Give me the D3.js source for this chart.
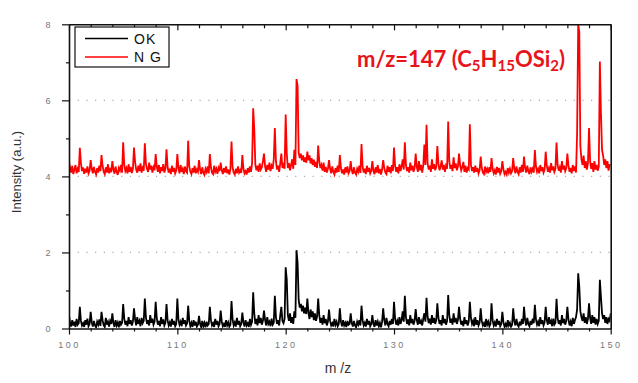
<!DOCTYPE html>
<html><head><meta charset="utf-8">
<script src="https://cdn.jsdelivr.net/npm/d3@7"></script>
<style>body{margin:0;background:#fff}svg{display:block}</style>
</head><body>
<svg id="c" width="638" height="383"></svg>
<script>
// sampling grid: m/z from 100 to 150 in steps of 0.1
const mzStart = 100, mzStep = 0.1;
const seriesNames = ["OK", "N G"];
const xTicks = [100, 110, 120, 130, 140, 150];
const yTicks = [0, 2, 4, 6, 8];
const gridValues = [2, 4, 6];

const ngValues = [
4.40,4.22,4.10,4.28,4.06,4.18,4.30,4.08,4.20,4.12,
4.75,4.35,4.14,4.24,4.07,4.20,4.10,4.26,4.08,4.15,
4.43,4.20,4.08,4.25,4.12,4.05,4.22,4.10,4.28,4.14,
4.56,4.28,4.12,4.06,4.24,4.10,4.32,4.08,4.18,4.11,
4.40,4.18,4.07,4.26,4.12,4.04,4.22,4.15,4.30,4.10,
4.90,4.30,4.14,4.22,4.08,4.32,4.12,4.25,4.09,4.20,
4.76,4.38,4.18,4.10,4.28,4.14,4.34,4.10,4.22,4.15,
4.87,4.32,4.20,4.12,4.36,4.18,4.28,4.10,4.24,4.16,
4.59,4.26,4.12,4.30,4.08,4.24,4.14,4.32,4.10,4.20,
4.71,4.24,4.10,4.20,4.06,4.28,4.12,4.22,4.08,4.16,
4.59,4.22,4.08,4.30,4.12,4.20,4.06,4.26,4.14,4.10,
4.94,4.26,4.12,4.06,4.22,4.10,4.28,4.08,4.18,4.12,
4.43,4.18,4.06,4.24,4.10,4.04,4.20,4.12,4.26,4.08,
4.59,4.24,4.10,4.06,4.28,4.12,4.20,4.07,4.22,4.14,
4.36,4.16,4.06,4.22,4.10,4.26,4.08,4.18,4.05,4.20,
4.92,4.24,4.10,4.05,4.20,4.08,4.26,4.10,4.16,4.09,
4.56,4.20,4.08,4.14,4.05,4.22,4.10,4.26,4.12,4.35,
5.79,5.25,4.30,4.16,4.28,4.12,4.34,4.18,4.24,4.40,
4.60,4.26,4.12,4.30,4.18,4.36,4.14,4.28,4.20,4.45,
5.27,4.40,4.18,4.28,4.12,4.34,4.60,4.22,4.30,4.20,
5.63,4.60,4.22,4.35,4.16,4.30,4.45,4.20,4.70,4.30,
6.56,6.38,4.62,4.48,4.60,4.42,4.55,4.38,4.50,4.36,
4.65,4.42,4.55,4.34,4.48,4.30,4.44,4.25,4.38,4.22,
4.81,4.40,4.22,4.30,4.15,4.36,4.12,4.25,4.10,4.20,
4.43,4.20,4.08,4.26,4.12,4.05,4.22,4.10,4.28,4.12,
4.56,4.22,4.08,4.18,4.05,4.24,4.10,4.26,4.08,4.14,
4.40,4.16,4.06,4.24,4.10,4.05,4.20,4.12,4.28,4.09,
4.85,4.26,4.10,4.20,4.06,4.28,4.12,4.22,4.08,4.15,
4.40,4.14,4.06,4.24,4.10,4.30,4.08,4.20,4.05,4.18,
4.43,4.22,4.10,4.06,4.28,4.12,4.24,4.08,4.30,4.14,
4.76,4.28,4.12,4.24,4.08,4.32,4.14,4.26,4.45,4.18,
4.90,4.30,4.14,4.24,4.10,4.36,4.16,4.28,4.12,4.22,
4.60,4.26,4.12,4.40,4.16,4.30,4.10,4.28,4.84,4.30,
5.36,4.34,4.18,4.28,4.12,4.45,4.20,4.32,4.16,4.25,
4.80,4.32,4.16,4.26,4.42,4.18,4.30,4.12,4.28,4.20,
5.44,4.40,4.20,4.30,4.14,4.50,4.22,4.34,4.16,4.26,
4.60,4.30,4.16,4.24,4.38,4.12,4.28,4.10,4.22,4.18,
5.37,4.30,4.14,4.24,4.10,4.28,4.12,4.22,4.08,4.16,
4.52,4.22,4.10,4.06,4.26,4.12,4.20,4.08,4.24,4.12,
4.48,4.20,4.08,4.16,4.05,4.25,4.10,4.22,4.07,4.14,
4.40,4.18,4.06,4.12,4.05,4.22,4.10,4.20,4.08,4.14,
4.48,4.20,4.08,4.26,4.12,4.06,4.24,4.10,4.30,4.12,
4.52,4.22,4.10,4.28,4.14,4.06,4.24,4.12,4.20,4.10,
4.69,4.26,4.12,4.20,4.08,4.30,4.14,4.24,4.10,4.18,
4.65,4.28,4.12,4.22,4.10,4.35,4.16,4.26,4.12,4.20,
4.89,4.30,4.15,4.24,4.10,4.40,4.18,4.28,4.14,4.22,
4.60,4.28,4.12,4.22,4.08,4.30,4.14,4.26,4.10,5.15,
8.00,7.80,4.80,4.45,4.30,4.55,4.22,4.40,4.18,4.35,
5.27,4.40,4.20,4.35,4.12,4.40,4.18,4.30,4.15,4.25,
7.02,5.66,4.70,4.55,4.30,4.45,4.22,4.40,4.15,4.30,
4.30];

const okValues = [
0.35,0.15,0.05,0.22,0.08,0.18,0.04,0.25,0.10,0.14,
0.57,0.20,0.08,0.14,0.04,0.22,0.10,0.26,0.06,0.12,
0.44,0.16,0.05,0.20,0.08,0.03,0.18,0.10,0.24,0.07,
0.44,0.22,0.08,0.04,0.28,0.10,0.18,0.05,0.20,0.12,
0.40,0.14,0.04,0.22,0.08,0.16,0.03,0.20,0.10,0.15,
0.64,0.26,0.10,0.20,0.06,0.30,0.12,0.22,0.08,0.18,
0.53,0.24,0.08,0.30,0.12,0.20,0.06,0.28,0.14,0.20,
0.79,0.30,0.12,0.22,0.08,0.35,0.15,0.26,0.10,0.18,
0.70,0.28,0.10,0.20,0.06,0.30,0.12,0.24,0.08,0.15,
0.64,0.22,0.08,0.16,0.05,0.25,0.10,0.20,0.06,0.12,
0.79,0.24,0.10,0.18,0.06,0.28,0.12,0.22,0.08,0.14,
0.60,0.20,0.06,0.15,0.04,0.22,0.08,0.18,0.05,0.10,
0.33,0.12,0.04,0.20,0.06,0.15,0.03,0.18,0.08,0.12,
0.57,0.22,0.08,0.14,0.04,0.25,0.10,0.20,0.06,0.12,
0.47,0.18,0.06,0.12,0.04,0.22,0.08,0.16,0.05,0.10,
0.72,0.24,0.08,0.16,0.05,0.28,0.10,0.20,0.06,0.12,
0.42,0.16,0.05,0.22,0.08,0.14,0.04,0.25,0.10,0.18,
0.95,0.40,0.12,0.25,0.08,0.35,0.14,0.28,0.10,0.20,
0.47,0.22,0.08,0.30,0.12,0.18,0.06,0.26,0.10,0.15,
0.86,0.30,0.12,0.22,0.08,0.35,0.57,0.20,0.14,0.25,
1.61,1.29,0.35,0.20,0.40,0.15,0.30,0.12,0.45,0.28,
2.06,1.73,0.75,0.55,0.65,0.45,0.60,0.40,0.55,0.38,
0.79,0.42,0.25,0.50,0.30,0.45,0.22,0.40,0.20,0.32,
0.79,0.35,0.15,0.28,0.10,0.35,0.14,0.25,0.08,0.18,
0.50,0.20,0.08,0.14,0.05,0.25,0.10,0.18,0.06,0.12,
0.53,0.18,0.06,0.22,0.08,0.15,0.04,0.20,0.10,0.12,
0.40,0.14,0.05,0.20,0.08,0.03,0.18,0.10,0.22,0.08,
0.60,0.22,0.08,0.15,0.05,0.25,0.10,0.20,0.06,0.12,
0.35,0.12,0.04,0.22,0.08,0.18,0.06,0.15,0.03,0.18,
0.53,0.22,0.08,0.28,0.12,0.06,0.20,0.10,0.25,0.12,
0.70,0.26,0.10,0.20,0.08,0.30,0.12,0.22,0.45,0.18,
0.86,0.30,0.12,0.24,0.08,0.35,0.14,0.25,0.10,0.20,
0.51,0.22,0.10,0.30,0.12,0.20,0.08,0.25,0.40,0.18,
0.81,0.32,0.14,0.26,0.10,0.35,0.15,0.28,0.12,0.22,
0.66,0.28,0.12,0.22,0.08,0.35,0.14,0.25,0.10,0.20,
0.88,0.35,0.15,0.26,0.10,0.40,0.16,0.28,0.12,0.22,
0.57,0.26,0.10,0.20,0.06,0.30,0.12,0.22,0.08,0.18,
0.70,0.28,0.12,0.20,0.06,0.30,0.10,0.22,0.08,0.15,
0.53,0.20,0.08,0.14,0.04,0.25,0.10,0.18,0.06,0.12,
0.66,0.22,0.08,0.16,0.05,0.25,0.10,0.20,0.06,0.12,
0.44,0.16,0.05,0.12,0.03,0.22,0.08,0.15,0.05,0.10,
0.53,0.20,0.08,0.25,0.10,0.05,0.18,0.08,0.25,0.12,
0.57,0.22,0.08,0.28,0.12,0.06,0.20,0.10,0.26,0.14,
0.62,0.24,0.10,0.18,0.06,0.30,0.12,0.22,0.08,0.16,
0.57,0.22,0.10,0.30,0.12,0.20,0.06,0.26,0.10,0.15,
0.78,0.28,0.12,0.22,0.08,0.35,0.14,0.25,0.10,0.20,
0.57,0.24,0.08,0.18,0.06,0.28,0.12,0.22,0.30,0.50,
1.45,1.10,0.45,0.30,0.20,0.40,0.15,0.30,0.12,0.25,
0.66,0.28,0.12,0.35,0.15,0.30,0.10,0.25,0.12,0.20,
1.28,0.83,0.40,0.25,0.35,0.15,0.30,0.12,0.25,0.20,
0.40];

const svg = d3.select("#c");
const L = 69, R = 610.7, T = 24.3, B = 328.5;
const x = d3.scaleLinear().domain([100, 150]).range([L, R]);
const y = d3.scaleLinear().domain([0, 8]).range([B, T]);

svg.append("defs").append("clipPath").attr("id","clip")
  .append("rect").attr("x",L).attr("y",T).attr("width",R-L).attr("height",B-T);

// dotted grid
svg.append("g").selectAll("line").data(gridValues).join("line")
  .attr("x1",L).attr("x2",R).attr("y1",d=>y(d)).attr("y2",d=>y(d))
  .attr("stroke","#aaa").attr("stroke-width",1.2).attr("stroke-dasharray","1.2,7.5");

const line = d3.line().x((d,i)=>x(mzStart + i*mzStep)).y(d=>y(d));
const gS = svg.append("g").attr("clip-path","url(#clip)");
gS.append("path").datum(okValues).attr("d",line).attr("fill","none").attr("stroke","#000").attr("stroke-width",1.8);
gS.append("path").datum(ngValues).attr("d",line).attr("fill","none").attr("stroke","#ff0000").attr("stroke-width",1.8);

// axes
const tickFont = g => g.selectAll("text").attr("font-family","Liberation Sans, Arial, sans-serif")
  .attr("font-size",9).attr("fill","#777").attr("letter-spacing","2.5px");
const minorX = d3.range(100, 151, 2).filter(v => v % 10 !== 0);
const minorY = [1,3,5,7];

const gB = svg.append("g").attr("transform",`translate(0,${B})`)
  .call(d3.axisBottom(x).tickValues(xTicks).tickSize(6).tickPadding(7).tickSizeOuter(0));
gB.call(tickFont);
gB.append("g").call(d3.axisBottom(x).tickValues(minorX).tickSize(3).tickFormat("").tickSizeOuter(0)).select(".domain").remove();

const gT = svg.append("g").attr("transform",`translate(0,${T})`)
  .call(d3.axisTop(x).tickValues(xTicks).tickSize(-6).tickFormat("").tickSizeOuter(0));
gT.append("g").call(d3.axisTop(x).tickValues(minorX).tickSize(-4).tickFormat("").tickSizeOuter(0)).select(".domain").remove();

const gL = svg.append("g").attr("transform",`translate(${L},0)`)
  .call(d3.axisLeft(y).tickValues(yTicks).tickSize(7).tickPadding(9).tickSizeOuter(0));
gL.call(tickFont);
gL.append("g").call(d3.axisLeft(y).tickValues(minorY).tickSize(3).tickFormat("").tickSizeOuter(0)).select(".domain").remove();

const gR = svg.append("g").attr("transform",`translate(${R},0)`)
  .call(d3.axisRight(y).tickValues([]).tickSizeOuter(0));

svg.selectAll(".domain").attr("stroke","#111").attr("stroke-width",1.6);
svg.selectAll(".tick line").attr("stroke","#111").attr("stroke-width",1.2);

// axis titles
svg.append("text").attr("transform","translate(21,172) rotate(-90)").attr("text-anchor","middle")
  .attr("font-family","Liberation Sans, Arial, sans-serif").attr("font-size",13).attr("fill","#333")
  .text("Intensity (a.u.)");
svg.append("text").attr("x",338).attr("y",373).attr("text-anchor","middle")
  .attr("font-family","Liberation Sans, Arial, sans-serif").attr("font-size",14).attr("fill","#333")
  .text("m /z");

// legend
const lg = svg.append("g");
lg.append("rect").attr("x",75).attr("y",27).attr("width",94).attr("height",40)
  .attr("fill","#fff").attr("stroke","#111").attr("stroke-width",1.2);
const colors = ["#000","#ff0000"];
seriesNames.forEach((n,i)=>{
  const yy = 38.5 + i*18.5;
  lg.append("line").attr("x1",85).attr("x2",128).attr("y1",yy).attr("y2",yy).attr("stroke",colors[i]).attr("stroke-width",1.3);
  lg.append("text").attr("x",134).attr("y",yy+5).attr("font-family","Liberation Sans, Arial, sans-serif")
    .attr("font-size",14).attr("fill","#111").attr("letter-spacing","1px").text(n);
});

// annotation
const ann = svg.append("text").attr("x",357).attr("y",67).attr("font-family","Lato, 'Open Sans', sans-serif")
  .attr("font-size",22).attr("font-weight","bold").attr("fill","#e8141c");
const parts = [["m/z=147 (C",0],["5",1],["H",0],["15",1],["OSi",0],["2",1],[")",0]];
parts.forEach(([t,sub],i)=>{
  const prev = i>0 ? parts[i-1][1] : 0;
  const ts = ann.append("tspan").text(t)
    .attr("dy", sub && !prev ? 4 : (!sub && prev ? -4 : 0));
  if (sub) ts.attr("font-size",15);
});
</script>
</body></html>
